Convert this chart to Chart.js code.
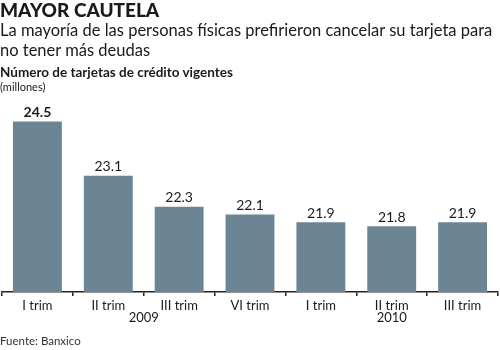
<!DOCTYPE html>
<html>
<head>
<meta charset="utf-8">
<script src="https://cdn.jsdelivr.net/npm/chart.js@4"></script>
<style>
  body { margin: 0; background: #fff; }
  #wrap { position: relative; width: 500px; height: 350px; overflow: hidden; font-family: Lato, sans-serif; color: #1a1a1a; }
  #wrap canvas { position: absolute; left: 0; top: 0; }
  .txt { position: absolute; left: 0; white-space: nowrap; }
  #title { top: -2px; font-size: 19px; font-weight: 900; }
  #sub { top: 20px; font-size: 16.5px; line-height: 20px; }
  #head { top: 64px; font-size: 13.5px; font-weight: 700; }
  #unit { top: 80px; font-size: 11px; }
  #src { top: 334px; font-size: 11.5px; color: #333; }
</style>
</head>
<body>
<div id="wrap">
  <canvas id="c" width="500" height="350"></canvas>
  <div class="txt" id="title">MAYOR CAUTELA</div>
  <div class="txt" id="sub">La mayoría de las personas físicas prefirieron cancelar su tarjeta para<br>no tener más deudas</div>
  <div class="txt" id="head">Número de tarjetas de crédito vigentes</div>
  <div class="txt" id="unit">(millones)</div>
  <div class="txt" id="src">Fuente: Banxico</div>
</div>
<script>
const quarters = ['I trim', 'II trim', 'III trim', 'VI trim', 'I trim', 'II trim', 'III trim'];
const years = ['2009', '2009', '2009', '2009', '2010', '2010', '2010'];
const cards = [24.5, 23.1, 22.3, 22.1, 21.9, 21.8, 21.9];

// value above each bar, first one in bold
const valueLabels = {
  id: 'valueLabels',
  afterDatasetsDraw(chart) {
    const { ctx } = chart;
    const meta = chart.getDatasetMeta(0);
    ctx.save();
    ctx.fillStyle = '#1a1a1a';
    ctx.textAlign = 'center';
    ctx.textBaseline = 'bottom';
    meta.data.forEach((bar, i) => {
      ctx.font = (i === 0 ? '700 ' : '400 ') + '14px Lato, sans-serif';
      ctx.fillText(cards[i].toFixed(1), bar.x, bar.y - 2);
    });
    ctx.restore();
  }
};

// year under each group of quarters
const yearLabels = {
  id: 'yearLabels',
  afterDraw(chart) {
    const { ctx } = chart;
    const x = chart.scales.x;
    const half = (x.getPixelForValue(1) - x.getPixelForValue(0)) / 2;
    ctx.save();
    ctx.fillStyle = '#1a1a1a';
    ctx.font = '13px Lato, sans-serif';
    ctx.textAlign = 'center';
    ctx.textBaseline = 'top';
    let start = 0;
    for (let i = 1; i <= years.length; i++) {
      if (i === years.length || years[i] !== years[start]) {
        const left = x.getPixelForValue(start) - half;
        const right = x.getPixelForValue(i - 1) + half;
        ctx.fillText(years[start], (left + right) / 2, 311);
        start = i;
      }
    }
    ctx.restore();
  }
};

new Chart(document.getElementById('c'), {
  type: 'bar',
  data: {
    labels: quarters,
    datasets: [{
      data: cards,
      backgroundColor: '#6b8594',
      barPercentage: 0.69,
      categoryPercentage: 1
    }]
  },
  options: {
    responsive: false,
    animation: false,
    layout: { padding: { top: 110, left: 2, right: 2, bottom: 0 } },
    plugins: { legend: { display: false }, tooltip: { enabled: false } },
    scales: {
      x: {
        afterFit(scale) { scale.height = 58; },
        border: { display: true, color: '#222', width: 1.5 },
        grid: { offset: true, drawOnChartArea: false, tickLength: 4, color: '#222', lineWidth: 1.5 },
        ticks: { color: '#1a1a1a', font: { family: 'Lato', size: 13 }, padding: 2, maxRotation: 0 }
      },
      y: {
        display: false,
        min: 20.1,
        max: 24.8
      }
    }
  },
  plugins: [valueLabels, yearLabels]
});
</script>
</body>
</html>
